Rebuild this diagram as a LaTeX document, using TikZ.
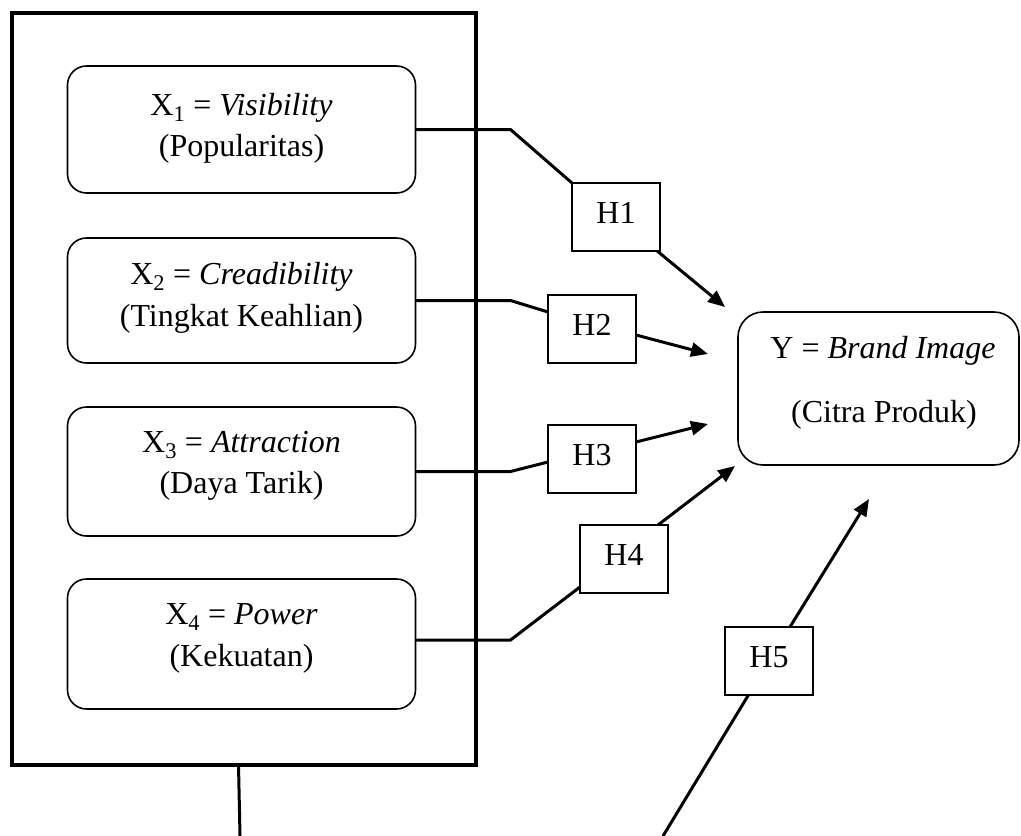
\documentclass[tikz,border=0pt]{standalone}
\usepackage{fontspec}
\setmainfont{Liberation Serif}
\usetikzlibrary{arrows.meta,calc}
\begin{document}
\begin{tikzpicture}[x=1pt,y=-1pt,
  frame/.style={draw,line width=3.3pt,inner sep=0pt,outer sep=0pt},
  xbox/.style={draw,line width=1.6pt,rounded corners=19pt,minimum width=348pt,inner sep=0pt,outer sep=0pt},
  ybox/.style={draw,line width=1.6pt,rounded corners=25pt,inner sep=0pt,outer sep=0pt},
  hbox/.style={draw,fill=white,line width=1.8pt,minimum width=88pt,minimum height=68pt,inner sep=0pt,outer sep=0pt,
    text height=22pt,text depth=10pt,font=\fontsize{32}{38}\selectfont},
  txt/.style={anchor=base,inner sep=0pt,font=\fontsize{32}{38}\selectfont},
  link/.style={line width=3pt},
  arr/.style={line width=3pt,-{Triangle[length=17pt,width=14pt]}},
]
\useasboundingbox (0,0) rectangle (1021,836);

% outer frame
\node[frame,minimum width=464pt,minimum height=752pt] (outer) at (244,389) {};

% X boxes
\node[xbox,minimum height=127pt] (x1) at (241.5,129.5) {};
\node[xbox,minimum height=125pt] (x2) at (241.5,300.5) {};
\node[xbox,minimum height=129pt] (x3) at (241.5,471.5) {};
\node[xbox,minimum height=130pt] (x4) at (241.5,644) {};

\node[txt] (x1a) at (241.5,115) {X\textsubscript{1} = \textit{Visibility}};
\node[txt] (x1b) at (241.5,156) {(Popularitas)};
\node[txt] (x2a) at (241.5,284) {X\textsubscript{2} = \textit{Creadibility}};
\node[txt] (x2b) at (241.5,326) {(Tingkat Keahlian)};
\node[txt] (x3a) at (241.5,452) {X\textsubscript{3} = \textit{Attraction}};
\node[txt] (x3b) at (241.5,493) {(Daya Tarik)};
\node[txt] (x4a) at (241.5,624) {X\textsubscript{4} = \textit{Power}};
\node[txt] (x4b) at (241.5,666) {(Kekuatan)};

% Y box
\node[ybox,minimum width=281pt,minimum height=153pt] (y) at (878.5,388.5) {};
\node[txt] (ya) at (883,358) {Y = \textit{Brand Image}};
\node[txt] (yb) at (884,422) {(Citra Produk)};

% free ends
\coordinate (t1) at (725,307);
\coordinate (t2) at (708,354);
\coordinate (t3) at (708,424);
\coordinate (t4) at (735,466);
\coordinate (t5) at (869,499);
\coordinate (b5) at (663,836);
\coordinate (b0) at (240,836);

% H5 line (drawn before its box)
\draw[link] (b5) -- (769,661);

% H boxes
\node[hbox] (h1) at (616,217) {H1};
\node[hbox] (h2) at (592,329) {H2};
\node[hbox] (h3) at (592,459) {H3};
\node[hbox] (h4) at (624,559) {H4};
\node[hbox] (h5) at (769,661) {H5};

% connectors from X boxes to H boxes
\draw[link] (x1.east) -- ++(95,0) -- (h1.north west);
\draw[link] (x2.east) -- ++(95,0) -- ($(h2.north west)!0.25!(h2.south west)$);
\draw[link] (x3.east) -- ++(95,0) -- ($(h3.west)+(0,3)$);
\draw[link] ($(x4.east)+(0,-4)$) -- ++(95,0) -- ($(h4.south west)+(0,-6)$);

% arrows from H boxes towards Y
\draw[arr] (h1) -- (t1);
\draw[arr] ($(h2.east)+(0,6)$) -- (t2);
\draw[arr] ($(h3.east)+(0,-17)$) -- (t3);
\draw[arr] ($(h4.north east)+(-10,0)$) -- (t4);
\draw[arr] (h5) -- (t5);

% line below the outer frame
\draw[link] ($(outer.south)+(-5.5,0)$) -- (b0);
\end{tikzpicture}
\end{document}
